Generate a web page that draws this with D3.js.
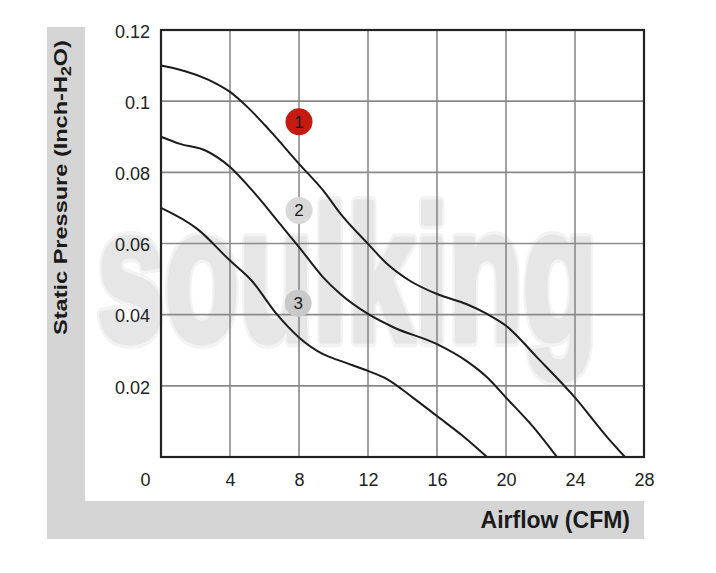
<!DOCTYPE html>
<html>
<head>
<meta charset="utf-8">
<script src="https://cdn.jsdelivr.net/npm/d3@7"></script>
<style>
  html, body { margin: 0; padding: 0; background: #fff; }
  svg { display: block; }
</style>
</head>
<body>
<svg id="chart" width="716" height="573"></svg>
<script>
// ---- data ----
const xTicks = [0, 4, 8, 12, 16, 20, 24, 28];
const yTicks = [0.02, 0.04, 0.06, 0.08, 0.1, 0.12];
const yTickLabels = ["0.02", "0.04", "0.06", "0.08", "0.1", "0.12"];

const curve1X = [0, 2.8, 4, 5.0, 6.3, 8, 9.4, 10.4, 12, 13.1, 14.4, 16, 17.7, 18.9, 20, 21.8, 24, 25.9, 26.9];
const curve1Y = [0.110, 0.1059, 0.1026, 0.0984, 0.0918, 0.0824, 0.0749, 0.0684, 0.0599, 0.0543, 0.0496, 0.0458, 0.0430, 0.0402, 0.0369, 0.0280, 0.0167, 0.0054, 0];

const curve2X = [0, 1.1, 2.55, 4, 5.45, 6.9, 8, 9.4, 10.4, 12, 13.5, 16, 17.7, 18.9, 20, 21.6, 22.95];
const curve2Y = [0.090, 0.088, 0.0862, 0.0815, 0.074, 0.0655, 0.059, 0.0505, 0.0458, 0.0402, 0.0364, 0.0317, 0.027, 0.0224, 0.0167, 0.0083, 0];

const curve3X = [0, 2.1, 4, 5.25, 6.7, 8, 9.4, 10.4, 12, 13.1, 14.6, 16, 17.5, 18.9];
const curve3Y = [0.070, 0.0641, 0.0552, 0.0496, 0.0402, 0.0336, 0.0289, 0.027, 0.0242, 0.0219, 0.0167, 0.0115, 0.0059, 0];

const markerLabels = ["1", "2", "3"];
const markerX = [8, 8, 7.95];
const markerY = [0.0942, 0.0693, 0.0432];
const markerColors = ["#c41a10", "#d9d9d9", "#c9c9c9"];

const xTitle = "Airflow (CFM)";
const yTitleMain = "Static Pressure (Inch-H";
const yTitleSub = "2";
const yTitleEnd = "O)";
const watermark = "soulking";

// ---- layout ----
const FONT = "Liberation Sans, Arial, sans-serif";
const svg = d3.select("#chart");
const L = 161, R = 644, T = 30, B = 457;
const x = d3.scaleLinear().domain([0, 28]).range([L, R]);
const y = d3.scaleLinear().domain([0, 0.12]).range([B, T]);

// gray L-frame
svg.append("rect").attr("x", 47).attr("y", 27).attr("width", 38).attr("height", 512).attr("fill", "#d5d5d5");
svg.append("rect").attr("x", 47).attr("y", 501).attr("width", 597).attr("height", 38).attr("fill", "#d5d5d5");

// watermark (halo + body)
[["#f3f3f3", 14], ["#e6e6e6", 7]].forEach(([col, sw]) => {
  svg.append("text")
    .attr("x", 97).attr("y", 340)
    .attr("textLength", 500).attr("lengthAdjust", "spacingAndGlyphs")
    .attr("font-family", FONT)
    .attr("font-weight", "bold").attr("font-size", 190)
    .attr("fill", col).attr("stroke", col).attr("stroke-width", sw)
    .attr("stroke-linejoin", "round")
    .text(watermark);
});

// grid
const g = svg.append("g");
g.selectAll(".vg").data(xTicks.slice(1, -1)).enter().append("line")
  .attr("x1", d => x(d)).attr("x2", d => x(d)).attr("y1", T).attr("y2", B)
  .attr("stroke", "#8a8a8a").attr("stroke-width", 1.6);
g.selectAll(".hg").data(yTicks.slice(0, -1)).enter().append("line")
  .attr("x1", L).attr("x2", R).attr("y1", d => y(d)).attr("y2", d => y(d))
  .attr("stroke", "#8a8a8a").attr("stroke-width", 1.6);

// curves
const line = d3.line().x(d => x(d[0])).y(d => y(d[1])).curve(d3.curveMonotoneX);
const curves = [[curve1X, curve1Y], [curve2X, curve2Y], [curve3X, curve3Y]];
curves.forEach(([cx, cy]) => {
  const pts = cx.map((v, i) => [v, cy[i]]);
  g.append("path").attr("d", line(pts)).attr("fill", "none")
    .attr("stroke", "#1c1c1c").attr("stroke-width", 2);
});

// border
g.append("rect").attr("x", L).attr("y", T).attr("width", R - L).attr("height", B - T)
  .attr("fill", "none").attr("stroke", "#222").attr("stroke-width", 2.2);

// markers
markerLabels.forEach((lab, i) => {
  g.append("circle").attr("cx", x(markerX[i])).attr("cy", y(markerY[i])).attr("r", 13.5)
    .attr("fill", markerColors[i]);
  g.append("text").attr("x", x(markerX[i])).attr("y", y(markerY[i]) + 6)
    .attr("text-anchor", "middle").attr("font-family", FONT)
    .attr("font-size", 17).attr("fill", "#1a1a1a").text(lab);
});

// axes (labels only)
const yAxis = d3.axisLeft(y).tickValues(yTicks).tickFormat((d, i) => yTickLabels[i]).tickSize(0).tickPadding(11);
const ya = svg.append("g").attr("transform", `translate(${L},0)`).call(yAxis);
ya.select(".domain").remove();
ya.selectAll("text").attr("font-family", FONT).attr("font-size", 18).attr("fill", "#222").attr("dy", "0.4em");

const xAxis = d3.axisBottom(x).tickValues(xTicks).tickFormat(d => String(d)).tickSize(0).tickPadding(16);
const xa = svg.append("g").attr("transform", `translate(0,${B})`).call(xAxis);
xa.select(".domain").remove();
xa.selectAll("text").attr("font-family", FONT).attr("font-size", 18).attr("fill", "#222")
  .attr("dx", d => d === 0 ? -16 : 0);

// titles
svg.append("text").attr("x", 630).attr("y", 528).attr("text-anchor", "end")
  .attr("font-family", FONT).attr("font-weight", "bold").attr("font-size", 23)
  .attr("fill", "#1a1a1a").text(xTitle);

const yt = svg.append("text").attr("text-anchor", "middle")
  .attr("font-family", FONT).attr("font-weight", "bold").attr("font-size", 18.5)
  .attr("fill", "#1a1a1a");
yt.append("tspan").text(yTitleMain);
yt.append("tspan").attr("dy", 4).attr("font-size", 14).text(yTitleSub);
yt.append("tspan").attr("dy", -4).text(yTitleEnd);
const len = yt.node().getComputedTextLength();
const sx = 295 / len;
yt.attr("transform", `translate(67,187.5) rotate(-90) scale(${sx},1)`);
</script>
</body>
</html>
